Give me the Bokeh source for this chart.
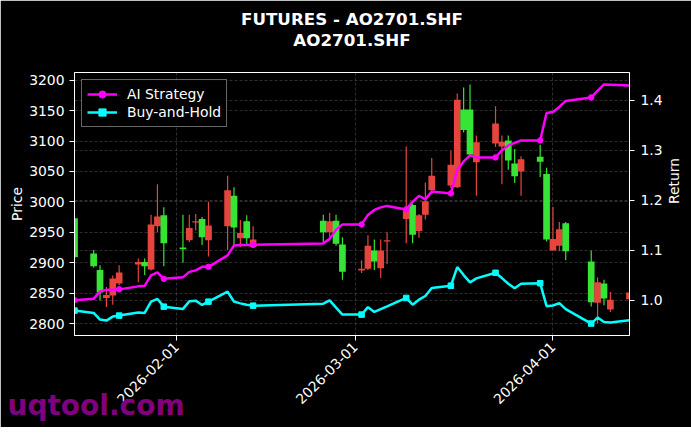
import math
import pandas as pd
from bokeh.plotting import figure
from bokeh.models import (Range1d, LinearAxis, DatetimeTickFormatter, FixedTicker, Title,
                          Grid, Legend, LegendItem, SingleIntervalTicker, ColumnDataSource,
                          PrintfTickFormatter)
from bokeh.embed import file_html
from bokeh.resources import INLINE

# ---------------- data ----------------
dates = ["2026-01-16", "2026-01-19", "2026-01-20", "2026-01-21", "2026-01-22", "2026-01-23",
         "2026-01-26", "2026-01-27", "2026-01-28", "2026-01-29", "2026-01-30",
         "2026-02-02", "2026-02-03", "2026-02-04", "2026-02-05", "2026-02-06",
         "2026-02-09", "2026-02-10", "2026-02-11", "2026-02-12", "2026-02-13",
         "2026-02-24", "2026-02-25", "2026-02-26", "2026-02-27",
         "2026-03-02", "2026-03-03", "2026-03-04", "2026-03-05", "2026-03-06",
         "2026-03-09", "2026-03-10", "2026-03-11", "2026-03-12", "2026-03-13",
         "2026-03-16", "2026-03-17", "2026-03-18", "2026-03-19", "2026-03-20",
         "2026-03-23", "2026-03-24", "2026-03-25", "2026-03-26", "2026-03-27",
         "2026-03-30", "2026-03-31", "2026-04-01", "2026-04-02", "2026-04-03",
         "2026-04-07", "2026-04-08", "2026-04-09", "2026-04-10", "2026-04-13"]

open_ = [2909, 2894, 2851, 2847, 2874, 2884, 2901, 2894, 2963, 2976, 2932,
         2922, 2957, 2968, 2942, 2961, 3019, 2958, 2949, 2940, 2938,
         2950, 2968, 2931, 2885,
         2890, 2928, 2902, 2920, 2937, 2989, 2946, 2978, 3001, 3043,
         3061, 3168, 3118, 3078, 3098, 3129, 3099, 3068, 3042, 3070,
         3066, 2938, 2939, 2955, 2919, 2835, 2868, 2841, 2839, 2851]
high = [2978, 2921, 2896, 2860, 2879, 2896, 2907, 2907, 2979, 3029, 2991,
        2979, 2979, 2980, 2975, 3000, 3043, 3024, 2970, 2978, 2960,
        2979, 2982, 2979, 2942,
        2904, 2945, 2938, 2938, 2950, 3091, 2997, 2980, 3032, 3072,
        3084, 3178, 3188, 3193, 3109, 3157, 3109, 3109, 3087, 3075,
        3094, 3056, 2992, 2967, 2967, 2920, 2876, 2872, 2852, 2853]
low = [2905, 2892, 2838, 2827, 2831, 2863, 2868, 2880, 2887, 2950, 2894,
       2900, 2934, 2953, 2929, 2910, 2921, 2928, 2926, 2930, 2925,
       2934, 2942, 2928, 2872,
       2883, 2888, 2888, 2875, 2898, 2932, 2932, 2941, 2971, 3013,
       3023, 3023, 3114, 3074, 3010, 3090, 3029, 3053, 3031, 3010,
       3041, 2935, 2920, 2919, 2904, 2828, 2800, 2830, 2819, 2838]
close = [2973, 2915, 2888, 2842, 2846, 2866, 2897, 2901, 2889, 2960, 2978,
         2925, 2937, 2966, 2972, 2937, 2960, 3010, 2940, 2968, 2926,
         2969, 2950, 2969, 2930,
         2887, 2890, 2920, 2891, 2935, 2972, 2995, 2952, 2979, 3019,
         3027, 3024, 3152, 3152, 3065, 3096, 3091, 3101, 3063, 3050,
         3074, 3046, 2920, 2928, 2965, 2902, 2834, 2866, 2823, 2840]

ai_strategy = [1.0004, 1.003, 1.018, 1.021, 1.021, 1.022, 1.028, 1.029, 1.050, 1.056, 1.043,
               1.046, 1.057, 1.060, 1.067, 1.067, 1.090, 1.110, 1.111, 1.111, 1.111,
               1.114, 1.123, 1.141, 1.152,
               1.152, 1.171, 1.181, 1.186, 1.189, 1.182, 1.197, 1.209, 1.202, 1.218,
               1.214, 1.261, 1.278, 1.290, 1.286, 1.286, 1.300, 1.310, 1.315, 1.320,
               1.320, 1.375, 1.377, 1.387, 1.399, 1.406, 1.419, 1.432, 1.4315, 1.430]
buy_hold = [0.9795, 0.9749, 0.9615, 0.9595, 0.9675, 0.9695, 0.9755, 0.9749, 0.9974, 1.0028, 0.9874,
            0.9829, 0.9980, 0.9994, 0.9908, 0.9974, 1.0173, 0.9974, 0.9940, 0.9914, 0.9894,
            0.9934, 1.0000, 0.9855, 0.9715,
            0.9715, 0.9864, 0.9769, 0.9825, 0.9880, 1.0048, 0.9914, 1.0014, 1.0088, 1.0247,
            1.0293, 1.0666, 1.0506, 1.0359, 1.0439, 1.0552, 1.0446, 1.0333, 1.0243, 1.0333,
            1.0343, 0.9884, 0.9898, 0.9944, 0.9825, 0.9536, 0.9655, 0.9565, 0.9556, 0.9601]

x_tick_labels = ["2026-02-01", "2026-03-01", "2026-04-01"]
title_lines = ["FUTURES - AO2701.SHF", "AO2701.SHF"]
series_names = ["AI Strategy", "Buy-and-Hold"]
watermark = "uqtool.com"

# ---------------- derived ----------------
DAY = 86400000.0
xs = [pd.Timestamp(d).timestamp() * 1000.0 for d in dates]
x_ticks = [pd.Timestamp(d).timestamp() * 1000.0 for d in x_tick_labels]

up_color, down_color = "#36e436", "#e6453d"
colors = [up_color if c >= o else down_color for o, c in zip(open_, close)]
src = ColumnDataSource(dict(
    x=xs, top=[max(o, c) for o, c in zip(open_, close)],
    bottom=[min(o, c) for o, c in zip(open_, close)],
    high=high, low=low, color=colors))

p_lo, p_hi = min(low), max(high)
pm = 0.05 * (p_hi - p_lo)
r_all = ai_strategy + buy_hold
r_lo, r_hi = min(r_all), max(r_all)
rm = 0.05 * (r_hi - r_lo)

FONT = "DejaVu Sans"
FS = "13.9px"
TFS = "16.7px"

p = figure(x_axis_type="datetime",
           x_range=Range1d(xs[0], xs[-1]),
           y_range=Range1d(p_lo - pm, p_hi + pm),
           frame_width=555, frame_height=263,
           min_border_left=74, min_border_right=50, min_border_top=72, min_border_bottom=92,
           output_backend="svg", toolbar_location=None,
           background_fill_color="black", border_fill_color="black",
           outline_line_color="white", outline_line_width=1)

# titles: p.title is the outermost line; the first added title sits next to the frame
title_style = dict(align="center", text_color="white", text_font=FONT,
                   text_font_size=TFS, text_font_style="bold")
p.title.text = title_lines[0]
for k, v in title_style.items():
    setattr(p.title, k, v)
p.title.standoff = -2.7
p.add_layout(Title(text=" ", standoff=0.5, **title_style), "above")   # spacing line
p.add_layout(Title(text=title_lines[1], standoff=0, **title_style), "above")

p.extra_y_ranges = {"ret": Range1d(r_lo - rm, r_hi + rm)}
ret_axis = LinearAxis(y_range_name="ret", axis_label="Return",
                      ticker=SingleIntervalTicker(interval=0.1),
                      formatter=PrintfTickFormatter(format="%.1f"))
p.add_layout(ret_axis, "right")
ret_axis.axis_label_orientation = math.pi / 2

p.yaxis[0].axis_label = "Price"
price_ticker = SingleIntervalTicker(interval=50)
p.yaxis[0].ticker = price_ticker
p.ygrid.ticker = price_ticker

xt = FixedTicker(ticks=x_ticks)
p.xaxis.ticker = xt
p.xgrid.ticker = xt
fmt = "%Y-%m-%d"
p.xaxis.formatter = DatetimeTickFormatter(days=fmt, months=fmt, years=fmt, hours=fmt,
                                          minutes=fmt, seconds=fmt, milliseconds=fmt,
                                          microseconds=fmt, minsec=fmt, hourmin=fmt)
p.xaxis.major_label_orientation = math.pi / 4

for ax in [p.xaxis[0], p.yaxis[0], ret_axis]:
    ax.axis_line_color = "white"
    ax.major_tick_line_color = "white"
    ax.minor_tick_line_color = None
    ax.major_tick_out = 5
    ax.major_tick_in = 0
    ax.major_label_text_color = "white"
    ax.major_label_text_font = FONT
    ax.major_label_text_font_size = FS
    ax.axis_label_text_color = "white"
    ax.axis_label_text_font = FONT
    ax.axis_label_text_font_size = FS
    ax.axis_label_text_font_style = "normal"
    ax.major_label_standoff = 4
p.yaxis[0].major_label_standoff = 5
p.yaxis[0].axis_label_standoff = 1
ret_axis.major_label_standoff = 6
ret_axis.axis_label_standoff = 8

grid_kw = dict(grid_line_color="#808080", grid_line_alpha=0.5,
               grid_line_dash="3 2", grid_line_width=0.7)
for g in [p.xgrid[0], p.ygrid[0]]:
    for k, v in grid_kw.items():
        setattr(g, k, v)
p.add_layout(Grid(dimension=1, ticker=ret_axis.ticker, y_range_name="ret", **grid_kw))

# candles
p.segment(x0="x", y0="low", x1="x", y1="high", source=src, line_color="color", line_width=1.2)
p.vbar(x="x", width=1.05 * DAY, top="top", bottom="bottom", source=src,
       fill_color="color", line_color=None)

# return lines
l1 = p.line(xs, ai_strategy, line_color="#ff00ff", line_width=2.5, y_range_name="ret")
m1 = p.scatter(xs[::5], ai_strategy[::5], marker="circle", size=5.5, color="#ff00ff",
               y_range_name="ret")
l2 = p.line(xs, buy_hold, line_color="#00ffff", line_width=2.5, y_range_name="ret")
m2 = p.scatter(xs[::5], buy_hold[::5], marker="square", size=5.5, color="#00ffff",
               y_range_name="ret")

legend = Legend(items=[LegendItem(label=series_names[0], renderers=[l1, m1]),
                       LegendItem(label=series_names[1], renderers=[l2, m2])],
                location="top_left", margin=7, padding=5, spacing=0,
                glyph_width=30, glyph_height=18, label_height=18, label_standoff=10,
                label_text_color="white", label_text_font=FONT, label_text_font_size=FS,
                background_fill_color="black", background_fill_alpha=0.85,
                border_line_color="#cccccc", border_line_width=1)
p.add_layout(legend)

# watermark (pulled up into the date-label band)
p.add_layout(Title(text=watermark, align="left", offset=-67, standoff=-45,
                   vertical_align="top",
                   text_color="#800080", text_font=FONT, text_font_size="28px",
                   text_font_style="bold"), "below")

open("out.html", "w").write(file_html(p, INLINE))
